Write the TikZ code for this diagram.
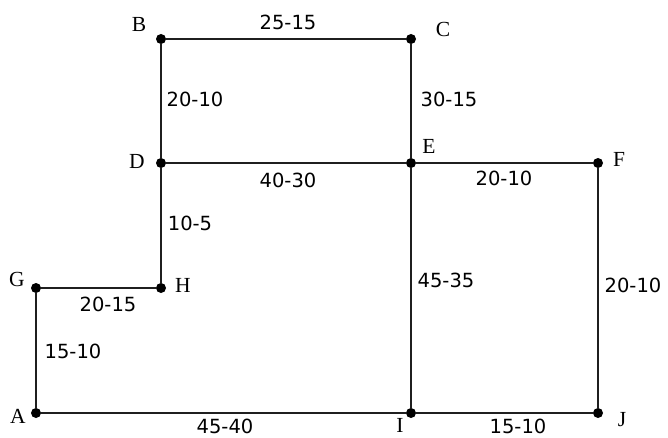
\documentclass[tikz,border=0pt]{standalone}
\usepackage{fontspec}
\setmainfont{Liberation Serif}
\newfontfamily\numfont{DejaVu Sans}
\begin{document}
\begin{tikzpicture}[x=1pt,y=-1pt,
  dot/.style={circle,fill=black,inner sep=0pt,minimum size=10pt},
  edge/.style={line width=1.8pt,draw=black!88},
  vlbl/.style={font=\fontsize{21.5}{22}\selectfont,inner sep=0pt,anchor=center},
  nlbl/.style={font=\numfont\fontsize{19.5}{20}\selectfont,inner sep=0pt,anchor=center}]
\useasboundingbox (0,0) rectangle (668,438);
% vertices
\node[dot] (B) at (161,39) {};
\node[dot] (C) at (411,39) {};
\node[dot] (D) at (161,163) {};
\node[dot] (E) at (411,163) {};
\node[dot] (F) at (598,163) {};
\node[dot] (G) at (36,288) {};
\node[dot] (H) at (161,288) {};
\node[dot] (A) at (36,413) {};
\node[dot] (I) at (411,413) {};
\node[dot] (J) at (598,413) {};
% edges
\draw[edge] (B) -- (C);
\draw[edge] (B) -- (D);
\draw[edge] (C) -- (E);
\draw[edge] (D) -- (E);
\draw[edge] (E) -- (F);
\draw[edge] (D) -- (H);
\draw[edge] (G) -- (H);
\draw[edge] (G) -- (A);
\draw[edge] (E) -- (I);
\draw[edge] (F) -- (J);
\draw[edge] (A) -- (I);
\draw[edge] (I) -- (J);
% vertex names
\node[vlbl] (lB) at (139,24) {B};
\node[vlbl] (lC) at (443,29) {C};
\node[vlbl] (lD) at (137,161) {D};
\node[vlbl] (lE) at (429,146) {E};
\node[vlbl] (lF) at (619,159) {F};
\node[vlbl] (lG) at (17,279) {G};
\node[vlbl] (lH) at (183,285) {H};
\node[vlbl] (lA) at (18,416) {A};
\node[vlbl] (lI) at (400,425) {I};
\node[vlbl] (lJ) at (622,420) {J};
% edge weights
\node[nlbl] (wBC) at (288,22) {25-15};
\node[nlbl] (wBD) at (195,99) {20-10};
\node[nlbl] (wCE) at (449,99) {30-15};
\node[nlbl] (wDE) at (288,180) {40-30};
\node[nlbl] (wEF) at (504,178) {20-10};
\node[nlbl] (wDH) at (190,223) {10-5};
\node[nlbl] (wGH) at (108,304) {20-15};
\node[nlbl] (wGA) at (73,351) {15-10};
\node[nlbl] (wEI) at (446,280) {45-35};
\node[nlbl] (wFJ) at (633,285) {20-10};
\node[nlbl] (wAI) at (225,426) {45-40};
\node[nlbl] (wIJ) at (518,426) {15-10};
\end{tikzpicture}
\end{document}
